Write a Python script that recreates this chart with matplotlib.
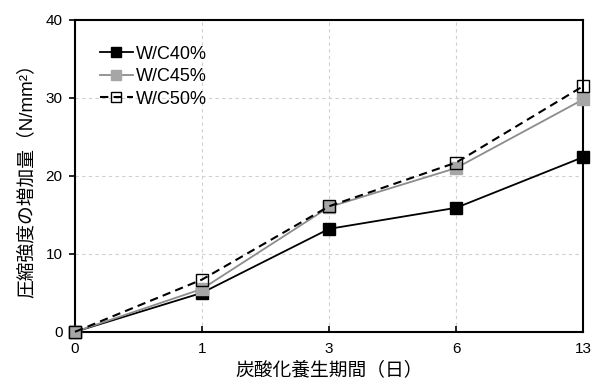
import matplotlib
matplotlib.use("Agg")
import matplotlib.pyplot as plt

plt.rcParams['font.family'] = ['Liberation Sans', 'Noto Sans CJK JP', 'DejaVu Sans']

# data
days = ["0", "1", "3", "6", "13"]
wc40 = [0, 5.0, 13.2, 15.9, 22.4]
wc45 = [0, 5.5, 16.0, 21.0, 29.8]
wc50 = [0, 6.7, 16.1, 21.7, 31.5]

x = list(range(len(days)))

fig = plt.figure(figsize=(6, 3.89), dpi=100)
ax = fig.add_axes([0.125, 0.147, 0.847, 0.802])

ax.plot(x, wc40, '-', color='black', lw=1.3, marker='s', ms=8.5,
        mfc='black', mec='black', label='W/C40%', zorder=3, clip_on=False)
ax.plot(x, wc45, '-', color='#8c8c8c', lw=1.3, marker='s', ms=8.5,
        mfc='#a6a6a6', mec='#a6a6a6', label='W/C45%', zorder=4, clip_on=False)
ax.plot(x, wc50, '--', color='black', lw=1.5, dashes=(4, 2.5), marker='s', ms=8.5,
        mfc='none', mec='black', mew=1.0, label='W/C50%', zorder=5, clip_on=False)

ax.set_xlim(0, 4)
ax.set_ylim(0, 40)
ax.set_xticks(x)
ax.set_xticklabels(days)
ax.set_yticks([0, 10, 20, 30, 40])

ax.grid(True, color='#d0d0d0', linestyle=(0, (3, 3)), lw=0.8)
ax.set_axisbelow(True)

for s in ax.spines.values():
    s.set_linewidth(1.5)
ax.tick_params(axis='x', direction='in', length=4, width=1.2, labelsize=11, pad=7)
ax.tick_params(axis='y', direction='out', length=4, width=1.2, labelsize=11, pad=5)

ax.set_xlabel('炭酸化養生期間（日）', fontsize=13.5, labelpad=4)
ax.set_ylabel('圧縮強度の増加量（N/mm²）', fontsize=13.5, labelpad=7)

leg = ax.legend(loc='upper left', frameon=False, fontsize=13, handlelength=1.8,
                handletextpad=0.2, labelspacing=0.3, borderaxespad=0.0,
                bbox_to_anchor=(0.035, 0.94), markerscale=0.9)

fig.savefig('out.png', dpi=100)
